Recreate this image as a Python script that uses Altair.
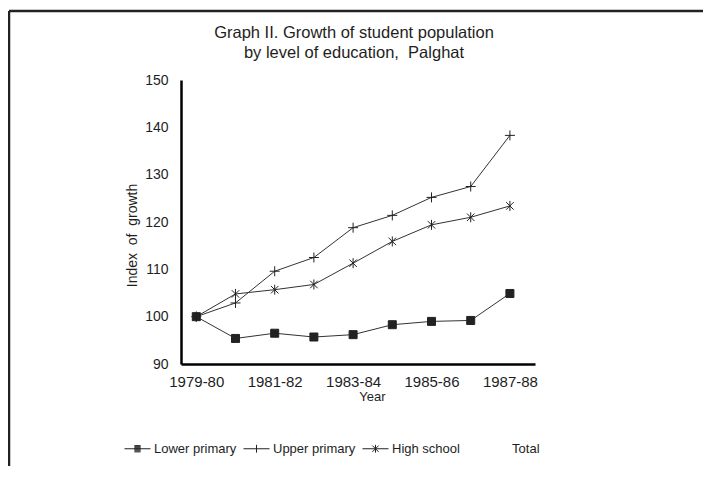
import json
import altair as alt
import pandas as pd

# ---- data ----
years = ["1979-80", "1980-81", "1981-82", "1982-83", "1983-84",
         "1984-85", "1985-86", "1986-87", "1987-88"]
lower_primary = [100, 95.4, 96.5, 95.7, 96.2, 98.3, 99.0, 99.2, 104.9]
upper_primary = [100, 102.9, 109.6, 112.5, 118.8, 121.4, 125.2, 127.5, 138.3]
high_school = [100, 104.8, 105.7, 106.8, 111.3, 115.9, 119.4, 121.0, 123.4]
series_names = ["Lower primary", "Upper primary", "High school"]
legend_names = series_names + ["Total"]
y_ticks = [90, 100, 110, 120, 130, 140, 150]
x_tick_idx = [0, 2, 4, 6, 8]

rows = []
for name, vals in zip(series_names, [lower_primary, upper_primary, high_school]):
    for i, (yr, v) in enumerate(zip(years, vals)):
        rows.append({"series": name, "year": yr, "idx": i, "value": v})
df = pd.DataFrame(rows)

FONT = "Liberation Sans"
INK = "#1e1e1e"
NBSP = "\u00a0"
ZWSP = "\u200b"

# marker shapes (SVG paths in the unit square)
sq = "M-0.8,-0.8H0.8V0.8H-0.8Z"
plus = "M-1,0H1M0,-1V1"
star = "M-0.75,-0.75L0.75,0.75M-0.75,0.75L0.75,-0.75M0,-1V1"
# legend symbols: stroke-only paths (line through marker); square drawn as dense hatching
hatch = "".join(f"M-0.24,{v:.2f}H0.24" for v in [-0.24, -0.16, -0.08, 0.0, 0.08, 0.16, 0.24])
leg_sq = "M-1,0H1" + hatch
leg_plus = "M-1,0H1M0,-0.3V0.3"
leg_star = "M-1,0H1M-0.24,-0.24L0.24,0.24M-0.24,0.24L0.24,-0.24M0,-0.3V0.3"
leg_none = "M0,0"

x_enc = alt.X(
    "idx:Q",
    scale=alt.Scale(domain=[-0.39, 8.64], nice=False, zero=False),
    axis=alt.Axis(
        title="Year", values=x_tick_idx,
        labelExpr=f"{json.dumps(years)}[datum.value]",
        ticks=False, grid=False, labelFlush=False,
        domainColor="black", domainWidth=2.5,
        labelFont=FONT, labelFontSize=15, labelColor=INK, labelPadding=10,
        titleFont=FONT, titleFontSize=13, titleFontWeight="normal", titleColor=INK,
        titlePadding=1, titleX=191,
    ),
)
y_enc = alt.Y(
    "value:Q",
    scale=alt.Scale(domain=[90, 150], nice=False, zero=False),
    axis=alt.Axis(
        title=f"Index{NBSP}{NBSP}of{NBSP}{NBSP}growth", values=y_ticks,
        ticks=False, grid=False,
        domainColor="black", domainWidth=2.5,
        labelFont=FONT, labelFontSize=14, labelColor=INK, labelPadding=13,
        titleFont=FONT, titleFontSize=14, titleFontWeight="normal", titleColor=INK,
        titlePadding=5, titleY=155,
    ),
)

frame_top = alt.Chart(alt.Data(values=[{}])).mark_rule(color="#222", strokeWidth=2.5).encode(
    x=alt.value(-172), x2=alt.value(530), y=alt.value(-69))
frame_left = alt.Chart(alt.Data(values=[{}])).mark_rule(color="#222", strokeWidth=2.5).encode(
    x=alt.value(-172), y=alt.value(-69), y2=alt.value(397))

lines = alt.Chart(df).mark_line(color="#333", strokeWidth=1).encode(
    x=x_enc, y=y_enc, detail="series:N")

points = alt.Chart(df).mark_point(
    filled=True, fill="#222", stroke="#222", strokeWidth=1, opacity=1, size=100
).encode(
    x=x_enc, y=y_enc,
    shape=alt.Shape("series:N", scale=alt.Scale(domain=series_names, range=[sq, plus, star]),
                    legend=None),
)

total_label = ZWSP + NBSP * 5 + "Total"
legend_layer = alt.Chart(df).transform_filter("false").mark_point(
    filled=False, color="#222", stroke="#222", strokeWidth=1, opacity=1, size=676
).encode(
    x=x_enc, y=y_enc,
    shape=alt.Shape(
        "series:N",
        scale=alt.Scale(domain=legend_names, range=[leg_sq, leg_plus, leg_star, leg_none]),
        legend=alt.Legend(
            title=None, orient="none", legendX=-57, legendY=355,
            direction="horizontal", padding=0,
            symbolSize=676, symbolStrokeWidth=1,
            symbolStrokeColor="#222", symbolOpacity=1,
            labelFont=FONT, labelFontSize=13, labelColor=INK, labelOffset=3,
            columnPadding=4,
            labelExpr=f"datum.value == 'Total' ? '{total_label}' : datum.label",
        ),
    ),
)

chart = alt.layer(frame_top, frame_left, lines, points, legend_layer).resolve_scale(
    shape="independent"
).properties(
    width=354, height=284,
    title=alt.Title(
        ["Graph II. Growth of student population", f"by level of education,{NBSP} Palghat"],
        font=FONT, fontSize=16.5, fontWeight="normal", color=INK,
        lineHeight=20, anchor="middle", frame="group", offset=14, dx=-4, dy=66,
    ),
    padding={"left": 173, "top": 72, "right": 168, "bottom": 102},
    autosize=alt.AutoSizeParams(type="none"),
).configure_view(stroke=None)

chart.save("out.html", embed_options={"renderer": "svg", "actions": False})
